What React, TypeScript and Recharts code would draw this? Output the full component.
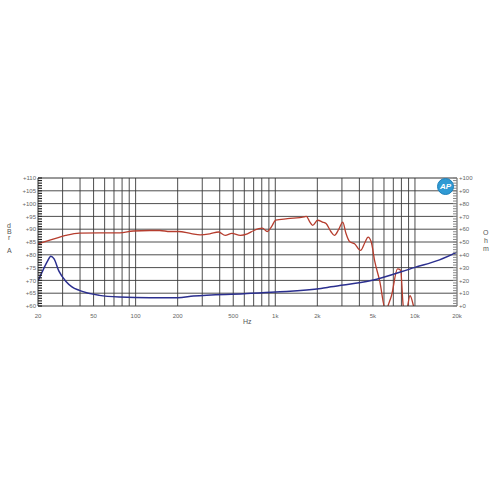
import { LineChart, Line, XAxis, YAxis, ReferenceLine } from 'recharts'

// SPL response (Hz, dBrA)
const splFreq = [20, 24, 31.6, 39.5, 55, 77, 96, 126, 149, 176, 202, 250, 290, 340, 393, 438, 489, 562, 631, 702, 807, 877, 940, 1005, 1222, 1610, 1670, 1760, 1850, 2010, 2180, 2309, 2506, 2650, 2850, 3044, 3200, 3400, 3694, 4077, 4400, 4611, 4866, 5142, 5590, 6180, 6500, 6790, 7500, 7900, 8245, 8600, 9214, 9760, 10500]
const splDb = [84.3, 85.6, 87.6, 88.5, 88.6, 88.6, 89.3, 89.5, 89.5, 89.1, 89.1, 88.3, 87.8, 88.2, 88.9, 87.6, 88.4, 87.6, 88.2, 89.5, 90.4, 89.1, 91, 93.5, 94.1, 94.8, 95, 93, 91.5, 93.5, 92.8, 92.2, 89, 87.6, 90, 92.8, 88.5, 85.2, 84.3, 81.7, 85, 86.9, 85, 77.7, 69.8, 58, 61, 64, 74.5, 74, 60, 57, 64, 60, 50]

// Impedance (Hz, Ohm)
const impFreq = [20, 21.5, 23.4, 24.7, 26, 28.3, 31.6, 35, 39.5, 55, 77, 126, 200, 259, 597, 1005, 2124, 2506, 4866, 10000, 15000, 20000]
const impOhm = [19.4, 27, 35, 38.8, 37, 27, 19.4, 15, 12.2, 8.3, 7, 6.5, 6.5, 7.8, 9.6, 10.9, 13.7, 15, 19.9, 30.2, 36, 42]

const freqTicks = [20, 50, 100, 200, 500, 1000, 2000, 5000, 10000, 20000]
const freqGrid = [30, 40, 50, 60, 70, 80, 90, 100, 200, 300, 400, 500, 600, 700, 800, 900, 1000, 2000, 3000, 4000, 5000, 6000, 7000, 8000, 9000, 10000]
const dbGrid = [65, 70, 75, 80, 85, 90, 95, 100, 105]
const dbTicks = Array.from({ length: 51 }, (_, i) => 60 + i)
const ohmTicks = Array.from({ length: 51 }, (_, i) => i * 2)

const splData = splFreq.map((f, i) => ({ f, v: splDb[i] }))
const impData = impFreq.map((f, i) => ({ f, v: impOhm[i] }))

const tickFont = { fontSize: 6, fill: '#666', fontFamily: 'Liberation Sans, Arial, sans-serif' }
const GRID = '#3a3a3a'

const fmtHz = (v: number) => (v >= 1000 ? `${v / 1000}k` : `${v}`)

function Label({ x, y, children }: { x: number; y: number; children: string }) {
  return (
    <div
      style={{
        position: 'absolute', left: x, top: y, fontSize: 7, color: '#555',
        fontFamily: 'Liberation Sans, Arial, sans-serif', lineHeight: 1,
      }}
    >
      {children}
    </div>
  )
}

export default function App() {
  return (
    <div style={{ position: 'absolute', left: 0, top: 0, width: 500, height: 500, background: '#fff' }}>
      <LineChart width={500} height={500} margin={{ top: 178, right: 13, bottom: 174, left: 8 }}>
        <XAxis
          dataKey="f"
          type="number"
          scale="log"
          domain={[20, 20000]}
          ticks={freqTicks}
          tickFormatter={fmtHz}
          tick={tickFont}
          tickLine={false}
          axisLine={{ stroke: GRID }}
          allowDataOverflow
          height={20}
          interval={0}
        />
        <YAxis
          yAxisId="spl"
          domain={[60, 110]}
          ticks={dbTicks}
          interval={0}
          tickFormatter={(v: number) => (v % 5 === 0 ? `+${v}` : '')}
          tick={tickFont}
          tickSize={-4}
          tickMargin={6}
          tickLine={{ stroke: '#222', strokeWidth: 1.2 }}
          axisLine={{ stroke: '#333' }}
          allowDataOverflow
          width={30}
        />
        <YAxis
          yAxisId="ohm"
          orientation="right"
          domain={[0, 100]}
          ticks={ohmTicks}
          interval={0}
          tickFormatter={(v: number) => (v % 10 === 0 ? `+${v}` : '')}
          tick={tickFont}
          tickSize={-4}
          tickMargin={6}
          tickLine={{ stroke: '#888', strokeWidth: 1 }}
          axisLine={{ stroke: '#555' }}
          allowDataOverflow
          width={30}
        />
        {freqGrid.map((f) => (
          <ReferenceLine key={`x${f}`} x={f} yAxisId="spl" stroke={GRID} strokeWidth={0.9} />
        ))}
        {dbGrid.map((d) => (
          <ReferenceLine key={`y${d}`} y={d} yAxisId="spl" stroke={GRID} strokeWidth={0.9} />
        ))}
        <ReferenceLine y={110} yAxisId="spl" stroke="#333" />
        <Line
          yAxisId="spl"
          data={splData}
          dataKey="v"
          type="monotone"
          stroke="#b63d2e"
          strokeWidth={1.3}
          dot={false}
          isAnimationActive={false}
        />
        <Line
          yAxisId="ohm"
          data={impData}
          dataKey="v"
          type="monotone"
          stroke="#2b2f8f"
          strokeWidth={1.5}
          dot={false}
          isAnimationActive={false}
        />
      </LineChart>

      <Label x={7} y={222}>d</Label>
      <Label x={7} y={228}>B</Label>
      <Label x={8} y={234}>r</Label>
      <Label x={7} y={247}>A</Label>
      <Label x={483} y={229}>O</Label>
      <Label x={484} y={237}>h</Label>
      <Label x={483} y={245}>m</Label>
      <Label x={243} y={318}>Hz</Label>

      <div
        style={{
          position: 'absolute', left: 437, top: 178, width: 15, height: 15, borderRadius: '50%',
          background: '#2f9ad4', border: '1px solid #1d7fb8', color: '#fff',
          fontSize: 8, fontWeight: 'bold', fontStyle: 'italic', textAlign: 'center', lineHeight: '15px',
          fontFamily: 'Liberation Sans, Arial, sans-serif',
        }}
      >
        AP
      </div>
    </div>
  )
}
